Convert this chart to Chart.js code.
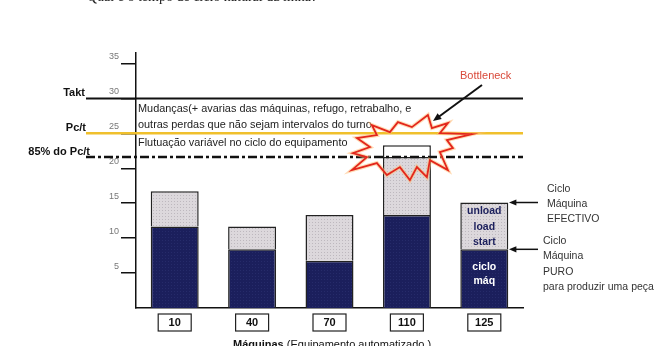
<!DOCTYPE html>
<html>
<head>
<meta charset="utf-8">
<script src="https://cdn.jsdelivr.net/npm/chart.js@4.4.0/dist/chart.umd.min.js"></script>
<style>
  html, body { margin: 0; padding: 0; background: #fff; }
</style>
</head>
<body>
<canvas id="c" width="670" height="346"></canvas>
<script>
// dados
const maquinas = ['10', '40', '70', '110', '125'];
const cicloMaq = [11.65, 8.4, 6.75, 13.3, 8.4];     // ciclo máquina puro
const loadUnload = [5.05, 3.25, 6.55, 8.3, 6.7];     // unload / load / start
const folga = [0, 0, 0, 1.7, 0];                     // parte branca da 110
const yTicks = [5, 10, 15, 20, 25, 30, 35];
const takt = 30;
const pct = 25;
const pct85 = 21.6;

const canvas = document.getElementById('c');
const ctx = canvas.getContext('2d');

// textura pontilhada das barras
function dotted(bg, dot) {
  const t = document.createElement('canvas');
  t.width = 3; t.height = 3;
  const g = t.getContext('2d');
  g.fillStyle = bg; g.fillRect(0, 0, 3, 3);
  g.fillStyle = dot; g.fillRect(0, 0, 1, 1);
  return ctx.createPattern(t, 'repeat');
}
const navy = dotted('#1b1f5c', '#262b6a');
const grey = dotted('#dcd8dc', '#bdb8be');

const SANS = '"Liberation Sans", Arial, sans-serif';

// forma da explosão (offsets em px em relação ao centro)
const star = [
  [-38, -21], [-20, -14], [-12, -24], [2, -19], [18, -31], [22, -18], [38, -23],
  [30, -13], [62, -12], [37, -6], [43, 2], [30, 6], [38, 24], [20, 14],
  [17, 31], [7, 21], [0, 34], [-10, 21], [-23, 29], [-33, 17], [-58, 24],
  [-43, 11], [-57, 7], [-40, 1], [-53, -8], [-33, -11]
];

function arrow(c, x1, y1, x2, y2, head) {
  const a = Math.atan2(y2 - y1, x2 - x1);
  c.beginPath();
  c.moveTo(x1, y1);
  c.lineTo(x2 - Math.cos(a) * head * 0.8, y2 - Math.sin(a) * head * 0.8);
  c.stroke();
  c.beginPath();
  c.moveTo(x2, y2);
  c.lineTo(x2 - head * Math.cos(a - 0.4), y2 - head * Math.sin(a - 0.4));
  c.lineTo(x2 - head * Math.cos(a + 0.4), y2 - head * Math.sin(a + 0.4));
  c.closePath();
  c.fill();
}

const annotations = {
  id: 'annotations',
  afterDatasetsDraw(chart) {
    const c = chart.ctx;
    const x = chart.scales.x;
    const y = chart.scales.y;
    const area = chart.chartArea;
    const lineStart = 86;
    c.save();

    // linhas Takt, Pc/t, 85%
    c.lineCap = 'butt';
    c.strokeStyle = '#111';
    c.lineWidth = 2;
    c.beginPath();
    c.moveTo(lineStart, y.getPixelForValue(takt));
    c.lineTo(area.right, y.getPixelForValue(takt));
    c.stroke();

    c.strokeStyle = '#f0c02c';
    c.lineWidth = 2.5;
    c.beginPath();
    c.moveTo(lineStart, y.getPixelForValue(pct));
    c.lineTo(area.right, y.getPixelForValue(pct));
    c.stroke();

    c.strokeStyle = '#111';
    c.lineWidth = 2.5;
    c.setLineDash([9, 3, 3, 3]);
    c.beginPath();
    c.moveTo(lineStart, y.getPixelForValue(pct85));
    c.lineTo(area.right, y.getPixelForValue(pct85));
    c.stroke();
    c.setLineDash([]);

    // rótulos à esquerda
    c.fillStyle = '#111';
    c.font = 'bold 11px ' + SANS;
    c.textAlign = 'right';
    c.textBaseline = 'alphabetic';
    c.fillText('Takt', 85, y.getPixelForValue(takt) - 2);
    c.fillText('Pc/t', 86, y.getPixelForValue(pct) - 2);
    c.fillText('85% do Pc/t', 90, y.getPixelForValue(pct85) - 2);

    // textos das faixas
    c.textAlign = 'left';
    c.fillStyle = '#222';
    c.font = '10.9px ' + SANS;
    c.fillText('Mudanças(+ avarias das máquinas, refugo, retrabalho, e', area.left + 2, 112);
    c.fillText('outras perdas que não sejam intervalos do turno', area.left + 2, 128);
    c.fillText('Flutuação variável no ciclo do equipamento', area.left + 2, 146);

    // explosão do bottleneck
    const cx = x.getPixelForValue(3) + 3;
    const cy = y.getPixelForValue(pct85) - 11;
    c.lineJoin = 'miter';
    [['rgba(255,190,120,0.55)', 4], ['#e3261c', 1.8]].forEach(([col, w]) => {
      c.strokeStyle = col;
      c.lineWidth = w;
      c.beginPath();
      star.forEach(([dx, dy], i) => {
        if (i === 0) c.moveTo(cx + dx, cy + dy);
        else c.lineTo(cx + dx, cy + dy);
      });
      c.closePath();
      c.stroke();
    });

    c.fillStyle = '#d9493a';
    c.font = '11px ' + SANS;
    c.fillText('Bottleneck', 460, 79);
    c.strokeStyle = '#111';
    c.fillStyle = '#111';
    c.lineWidth = 2;
    arrow(c, 482, 85, 433, 121, 9);

    // caixas dos rótulos do eixo x
    c.strokeStyle = '#222';
    c.lineWidth = 1.2;
    maquinas.forEach((m, i) => {
      const px = x.getPixelForTick(i);
      c.strokeRect(px - 16.5, 314, 33, 17);
    });

    // título do eixo x
    c.fillStyle = '#111';
    c.textAlign = 'left';
    c.font = 'bold 11px ' + SANS;
    c.fillText('Máquinas', 233, 348);
    const w = c.measureText('Máquinas ').width;
    c.font = '11px ' + SANS;
    c.fillText('(Equipamento automatizado )', 233 + w, 348);

    // textos dentro da barra 125
    const bx = x.getPixelForValue(4);
    c.textAlign = 'center';
    c.font = 'bold 10.5px ' + SANS;
    c.fillStyle = '#1b1f5c';
    c.fillText('unload', bx, 214);
    c.fillText('load', bx, 230);
    c.fillText('start', bx, 245);
    c.fillStyle = '#fff';
    c.fillText('ciclo', bx, 270);
    c.fillText('máq', bx, 284);

    // setas e legendas à direita
    const yTop = y.getPixelForValue(cicloMaq[4] + loadUnload[4]);
    const yMid = y.getPixelForValue(cicloMaq[4]);
    c.strokeStyle = '#111';
    c.fillStyle = '#111';
    c.lineWidth = 1.5;
    arrow(c, 538, yTop, 509, yTop, 8);
    arrow(c, 538, yMid, 509, yMid, 8);

    c.textAlign = 'left';
    c.fillStyle = '#333';
    c.font = '10.5px ' + SANS;
    c.fillText('Ciclo', 547, 192);
    c.fillText('Máquina', 547, 207);
    c.fillText('EFECTIVO', 547, 222);
    c.fillText('Ciclo', 543, 244);
    c.fillText('Máquina', 543, 259);
    c.fillText('PURO', 543, 275);
    c.fillText('para produzir uma peça', 543, 290);

    // pergunta no topo (cortada)
    c.fillStyle = '#222';
    c.font = '14px "Liberation Serif", "Times New Roman", serif';
    c.fillText('•', 68, 1);
    c.fillText('Qual é o tempo de ciclo natural da linha?', 87, 1);

    c.restore();
  }
};

const common = {
  borderColor: '#222',
  borderWidth: 1.5,
  barPercentage: 0.62,
  categoryPercentage: 1.0
};

new Chart(ctx, {
  type: 'bar',
  data: {
    labels: maquinas,
    datasets: [
      { ...common, label: 'ciclo máq', data: cicloMaq, backgroundColor: navy },
      { ...common, label: 'unload/load/start', data: loadUnload, backgroundColor: grey },
      { ...common, label: 'folga', data: folga, backgroundColor: '#fff' }
    ]
  },
  options: {
    responsive: false,
    animation: false,
    devicePixelRatio: 1,
    layout: { padding: { top: 53, right: 147, left: 0, bottom: 0 } },
    plugins: {
      legend: { display: false },
      tooltip: { enabled: false }
    },
    scales: {
      x: {
        stacked: true,
        grid: { display: false },
        border: { display: true, color: '#111', width: 1.5 },
        ticks: { color: '#111', padding: 0, font: { family: SANS, size: 11, weight: 'bold' } },
        afterFit: s => { s.height = 38; }
      },
      y: {
        stacked: true,
        min: 0,
        max: 36.5,
        afterBuildTicks: s => { s.ticks = yTicks.map(v => ({ value: v })); },
        grid: { drawOnChartArea: false, drawTicks: true, tickLength: 15, color: '#111', lineWidth: 1.5 },
        border: { display: true, color: '#111', width: 1.5 },
        ticks: { color: '#777', padding: 2, labelOffset: -7, font: { family: SANS, size: 9 } },
        afterFit: s => { s.width = 136; }
      }
    }
  },
  plugins: [annotations]
});
</script>
</body>
</html>
